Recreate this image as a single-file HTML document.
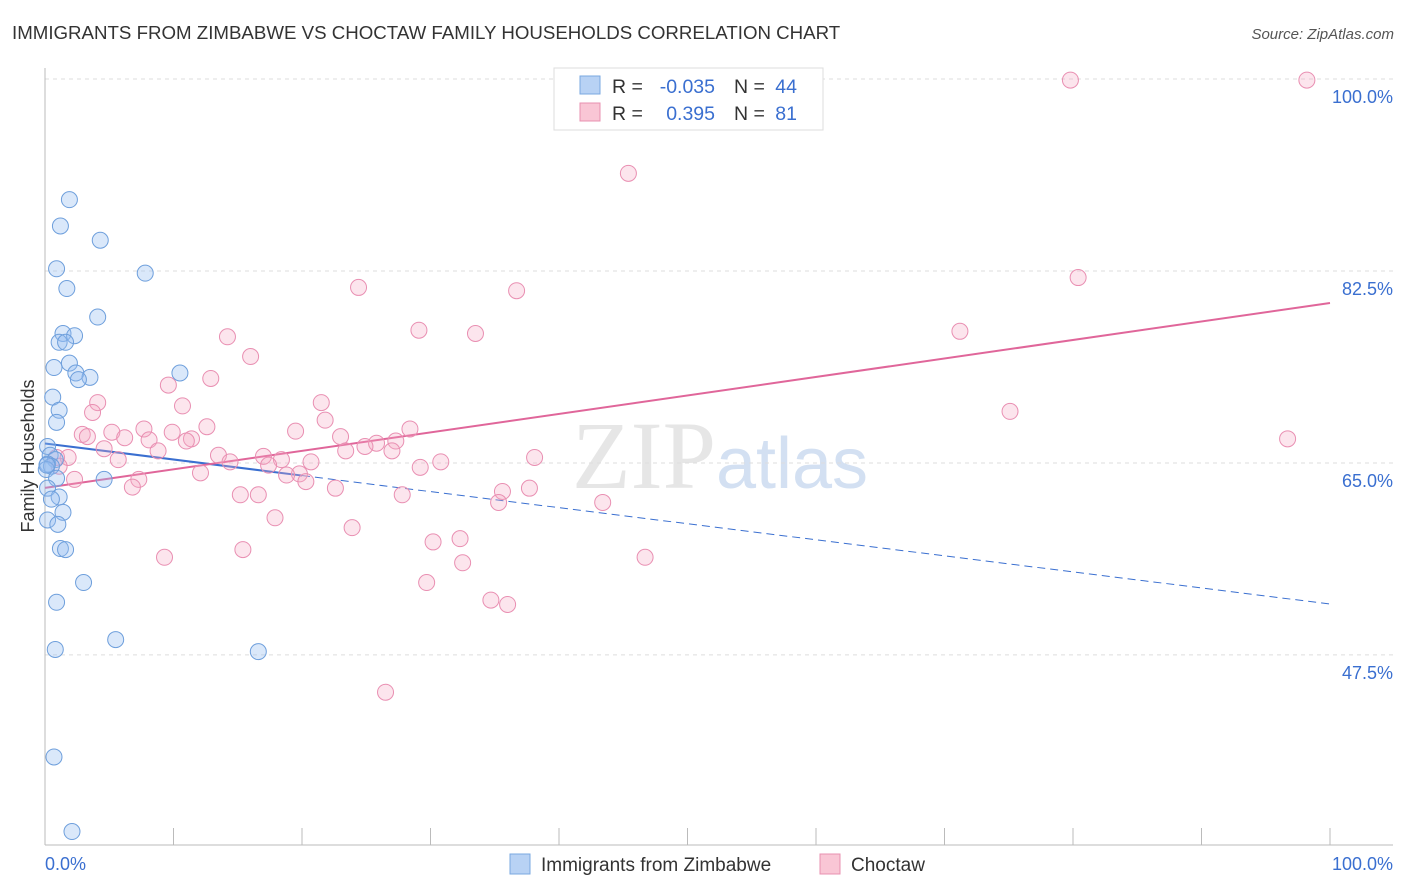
<!DOCTYPE html>
<html><head><meta charset="utf-8"><style>
body{margin:0;background:#fff;font-family:"Liberation Sans",sans-serif;}
svg{display:block}
</style></head><body>
<svg id="chart" width="1406" height="892">
<text x="12" y="39" font-size="18.7" fill="#333">IMMIGRANTS FROM ZIMBABWE VS CHOCTAW FAMILY HOUSEHOLDS CORRELATION CHART</text>
<text x="1394" y="39" font-size="15" fill="#555" font-style="italic" text-anchor="end">Source: ZipAtlas.com</text>
<text x="720" y="488" font-size="96" fill="#e6e6e6" text-anchor="middle" font-family="Liberation Serif,serif">ZIP<tspan fill="#d3e0f2" font-family="Liberation Sans,sans-serif" font-size="72">atlas</tspan></text>
<g id="grid"></g>
<g id="axes"></g>
<g id="lines"></g>
<g id="pts"></g>
<text transform="translate(34,456) rotate(-90)" font-size="18" fill="#333" text-anchor="middle">Family Households</text>
<g>
<rect x="554" y="68" width="269" height="62" fill="#fff" stroke="#ddd"/>
<rect x="580" y="76" width="20" height="18" fill="#b8d2f4" stroke="#7aa8e0"/>
<rect x="580" y="103" width="20" height="18" fill="#f9c6d5" stroke="#e890b0"/>
<text x="612" y="93" font-size="19.5" fill="#333">R =</text>
<text x="715" y="93" font-size="19.5" fill="#3a6fd0" text-anchor="end">-0.035</text>
<text x="734" y="93" font-size="19.5" fill="#333">N =</text>
<text x="797" y="93" font-size="19.5" fill="#3a6fd0" text-anchor="end">44</text>
<text x="612" y="120" font-size="19.5" fill="#333">R =</text>
<text x="715" y="120" font-size="19.5" fill="#3a6fd0" text-anchor="end">0.395</text>
<text x="734" y="120" font-size="19.5" fill="#333">N =</text>
<text x="797" y="120" font-size="19.5" fill="#3a6fd0" text-anchor="end">81</text>
</g>
<g>
<rect x="510" y="854" width="20" height="20" fill="#b8d2f4" stroke="#7aa8e0"/>
<text x="541" y="871" font-size="19" fill="#333">Immigrants from Zimbabwe</text>
<rect x="820" y="854" width="20" height="20" fill="#f9c6d5" stroke="#e890b0"/>
<text x="851" y="871" font-size="19" fill="#333">Choctaw</text>
</g>
</svg>
<script>
const yTicks=[100,82.5,65,47.5];
const yTickLabels=["100.0%","82.5%","65.0%","47.5%"];
const xTickLabels=["0.0%","100.0%"];
const blueX=[1.9,1.2,4.3,0.9,7.8,1.7,4.1,1.4,2.3,1.1,1.6,1.9,0.7,10.5,2.4,3.5,2.6,0.6,1.1,0.9,0.2,0.4,0.8,0.2,0.5,0.1,0.9,4.6,0.2,1.1,0.5,1.4,0.2,1.0,1.2,1.6,3.0,0.9,5.5,0.8,16.6,0.7,2.1,0.15];
const blueY=[89.0,86.6,85.3,82.7,82.3,80.9,78.3,76.8,76.6,76.0,76.0,74.1,73.7,73.2,73.2,72.8,72.6,71.0,69.8,68.7,66.5,65.7,65.3,64.9,64.7,64.4,63.6,63.5,62.7,61.9,61.7,60.5,59.8,59.4,57.2,57.1,54.1,52.3,48.9,48.0,47.8,38.2,31.4,64.8];
const pinkX=[79.8,98.2,45.4,80.4,24.4,36.7,71.2,29.1,33.5,14.2,16.0,9.6,12.9,21.5,10.7,4.1,3.7,75.1,21.8,12.6,7.7,28.4,5.2,19.5,2.9,9.9,3.3,6.2,23.0,8.1,11.4,11.0,25.8,27.3,24.9,4.6,8.8,23.4,27.0,96.7,13.5,17.0,0.9,1.8,38.1,5.7,14.4,18.4,20.7,30.8,17.4,29.2,1.1,19.8,18.8,12.1,7.3,2.3,20.3,22.6,6.8,37.7,15.2,16.6,27.8,35.6,35.3,43.4,17.9,23.9,30.2,32.3,15.4,9.3,46.7,32.5,29.7,34.7,36.0,26.5];
const pinkY=[99.9,99.9,91.4,81.9,81.0,80.7,77.0,77.1,76.8,76.5,74.7,72.1,72.7,70.5,70.2,70.5,69.6,69.7,68.9,68.3,68.1,68.1,67.8,67.9,67.6,67.8,67.4,67.3,67.4,67.1,67.2,67.0,66.8,67.0,66.5,66.3,66.1,66.1,66.1,67.2,65.7,65.6,65.5,65.5,65.5,65.3,65.1,65.3,65.1,65.1,64.8,64.6,64.7,64.0,63.9,64.1,63.5,63.5,63.3,62.7,62.8,62.7,62.1,62.1,62.1,62.4,61.4,61.4,60.0,59.1,57.8,58.1,57.1,56.4,56.4,55.9,54.1,52.5,52.1,44.1];
const X=v=>45+v*12.85, Y=v=>79+(100-v)*10.97;
const NS="http://www.w3.org/2000/svg";
function mk(tag,attrs,parent){const e=document.createElementNS(NS,tag);for(const k in attrs)e.setAttribute(k,attrs[k]);parent.appendChild(e);return e;}
const grid=document.getElementById('grid'),axes=document.getElementById('axes'),lines=document.getElementById('lines'),pts=document.getElementById('pts');
yTicks.forEach((t,i)=>{
 const l=mk('line',{x1:45,x2:1393,y1:Y(t),y2:Y(t),stroke:'#ddd','stroke-dasharray':'4,4'},grid);
 
 
 const tx=mk('text',{x:1393,y:Y(t)+24,'font-size':18,fill:'#3a6fd0','text-anchor':'end'},axes);tx.textContent=yTickLabels[i];
 
 
});
let a=mk('line',{x1:45,x2:45,y1:68,y2:845,stroke:'#bbb'},axes);


a=mk('line',{x1:45,x2:1393,y1:845,y2:845,stroke:'#bbb'},axes);


for(let i=0;i<=10;i++){const t=mk('line',{x1:X(i*10),x2:X(i*10),y1:828,y2:845,stroke:'#bbb'},axes);
 
 }
[[0,'start',45],[100,'end',1393]].forEach((d,i)=>{const t=mk('text',{x:d[2],y:870,'font-size':18,fill:'#3a6fd0','text-anchor':d[1]},axes);t.textContent=xTickLabels[i];
 
 });
function fit(xs,ys){const n=xs.length;let mx=0,my=0;xs.forEach((x,i)=>{mx+=x;my+=ys[i];});mx/=n;my/=n;let sxy=0,sxx=0;xs.forEach((x,i)=>{sxy+=(x-mx)*(ys[i]-my);sxx+=(x-mx)**2;});const b=sxy/sxx;return [my-b*mx,b];}
const bf=fit(blueX,blueY), pf=fit(pinkX,pinkY);
let l=mk('line',{x1:X(0),y1:Y(bf[0]),x2:X(20),y2:Y(bf[0]+bf[1]*20),stroke:'#3a6fd0','stroke-width':2},lines);


l=mk('line',{x1:X(20),y1:Y(bf[0]+bf[1]*20),x2:X(100),y2:Y(bf[0]+bf[1]*100),stroke:'#3a6fd0','stroke-width':1,'stroke-dasharray':'8,5'},lines);


l=mk('line',{x1:X(0),y1:Y(pf[0]),x2:X(100),y2:Y(pf[0]+pf[1]*100),stroke:'#e0669a','stroke-width':2},lines);


pinkX.forEach((x,i)=>{const c=mk('circle',{cx:X(x),cy:Y(pinkY[i]),r:8,fill:'rgba(246,168,196,0.3)',stroke:'#e98fb2','stroke-width':1},pts);
 
 });
blueX.forEach((x,i)=>{const c=mk('circle',{cx:X(x),cy:Y(blueY[i]),r:8,fill:'rgba(150,190,240,0.35)',stroke:'#6e9fdc','stroke-width':1},pts);
 
 });
</script>
</body></html>
